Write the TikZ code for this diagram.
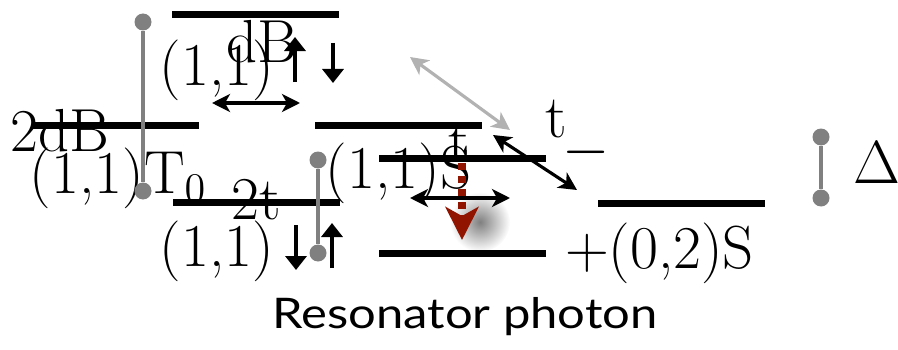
\documentclass[tikz,border=0pt]{standalone}
\usepackage{fontspec}
\setsansfont{Lato}
\usepackage{tikz}
\usetikzlibrary{positioning,arrows.meta,backgrounds,calc}
\definecolor{photon}{RGB}{145,20,0}
\tikzset{
  >={Stealth[length=1.8mm, width=1.8mm, inset=0.5mm]},
  level/.style={fill=black, minimum width=1.67cm, minimum height=0.7mm, inner sep=0pt, outer sep=0pt},
  lab/.style={font=\fontsize{17.3}{20}\selectfont, inner sep=0pt},
  dot/.style={circle, fill=gray, inner sep=0pt, minimum size=1.7mm},
  gap/.style={gray, line width=1.1pt},
  flow/.style={<->, line width=0.9pt},
  hop/.style={flow, black!30},
  emit/.style={-{Stealth[length=3.3mm, width=3.3mm, inset=0.9mm]}, photon, line width=2pt,
               dash pattern=on 0.7mm off 0.6mm},
  spin/.style={-{Triangle[length=1.4mm, width=2.1mm]}, line width=1.4pt}
}

\begin{document}
\begin{tikzpicture}
\useasboundingbox (0,0) rectangle (8.98,3.49);
% shadow of the photon arrow
\begin{scope}[on background layer]
\shade[inner color=black!50, outer color=white] (4.80,1.27) circle (0.3);
\end{scope}
% levels
\node[level] (top) at (2.555,3.34) {};
\node[level] (twodb) at (1.155,2.24) {};
\node[level] (mid) at (3.985,2.24) {};
\node[level] (sing) at (4.62,1.91) {};
\node[level] (trip) at (2.56,1.47) {};
\node[level] (low) at (4.62,0.96) {};
\node[level] (dbl) at (6.81,1.46) {};
% labels
\node[lab] (db) at (2.62,3.07) {dB};
\node[lab] (uu) at (2.17,2.79) {(1,1)};
\node[lab] (tdb) at (0.60,2.18) {2dB};
\node[lab] (tzero) at (1.185,1.71) {(1,1)T$_0$};
\node[lab] (twot) at (2.56,1.49) {2t};
\node[lab] (dd) at (2.17,0.98) {(1,1)};
\node[lab] (ss) at (3.985,1.755) {(1,1)S};
\node[lab] (tin) at (4.59,2.06) {t};
\node[lab] (tout) at (5.56,2.30) {t};
\node[lab] (minus) at (5.86,1.97) {$-$};
\node[lab] (plus) at (6.595,0.955) {+(0,2)S};
\node[lab] (delta) at (8.77,1.86) {$\Delta$};
\node[font=\sffamily\fontsize{12}{14}\selectfont, anchor=base, inner sep=0pt] (res) at (4.65,0.21)
  {\scalebox{1.16}[1]{Resonator photon}};
% spins
\draw[spin] (2.95,2.67) -- (2.95,3.12);
\draw[spin] (3.33,3.06) -- (3.33,2.66);
\draw[spin] (2.96,1.24) -- (2.96,0.79);
\draw[spin] (3.32,0.81) -- (3.32,1.26);
% splittings
\node[dot] (ga) at (1.43,3.27) {};
\node[dot] (gb) at (1.43,1.58) {};
\draw[gap] (ga) -- (gb);
\node[dot] (gc) at (3.18,1.89) {};
\node[dot] (gd) at (3.18,0.96) {};
\draw[gap] (gc) -- (gd);
\node[dot] (ge) at (8.21,2.12) {};
\node[dot] (gf) at (8.21,1.51) {};
\draw[gap] (ge) -- (gf);
% couplings
\coordinate (ua) at (2.12,2.46);
\coordinate (ub) at (3.00,2.46);
\draw[flow] (ua) -- (ub);
\coordinate (la) at (4.10,1.51);
\coordinate (lb) at (5.10,1.51);
\draw[flow] (la) -- (lb);
\coordinate (ha) at (4.10,2.92);
\coordinate (hb) at (5.10,2.19);
\draw[hop] (ha) -- (hb);
\coordinate (da) at (4.93,2.14);
\coordinate (db2) at (5.77,1.59);
\draw[flow] (da) -- (db2);
\coordinate (ea) at (4.62,1.86);
\coordinate (eb) at (4.62,1.09);
\draw[emit] (ea) -- (eb);
\end{tikzpicture}
\end{document}
